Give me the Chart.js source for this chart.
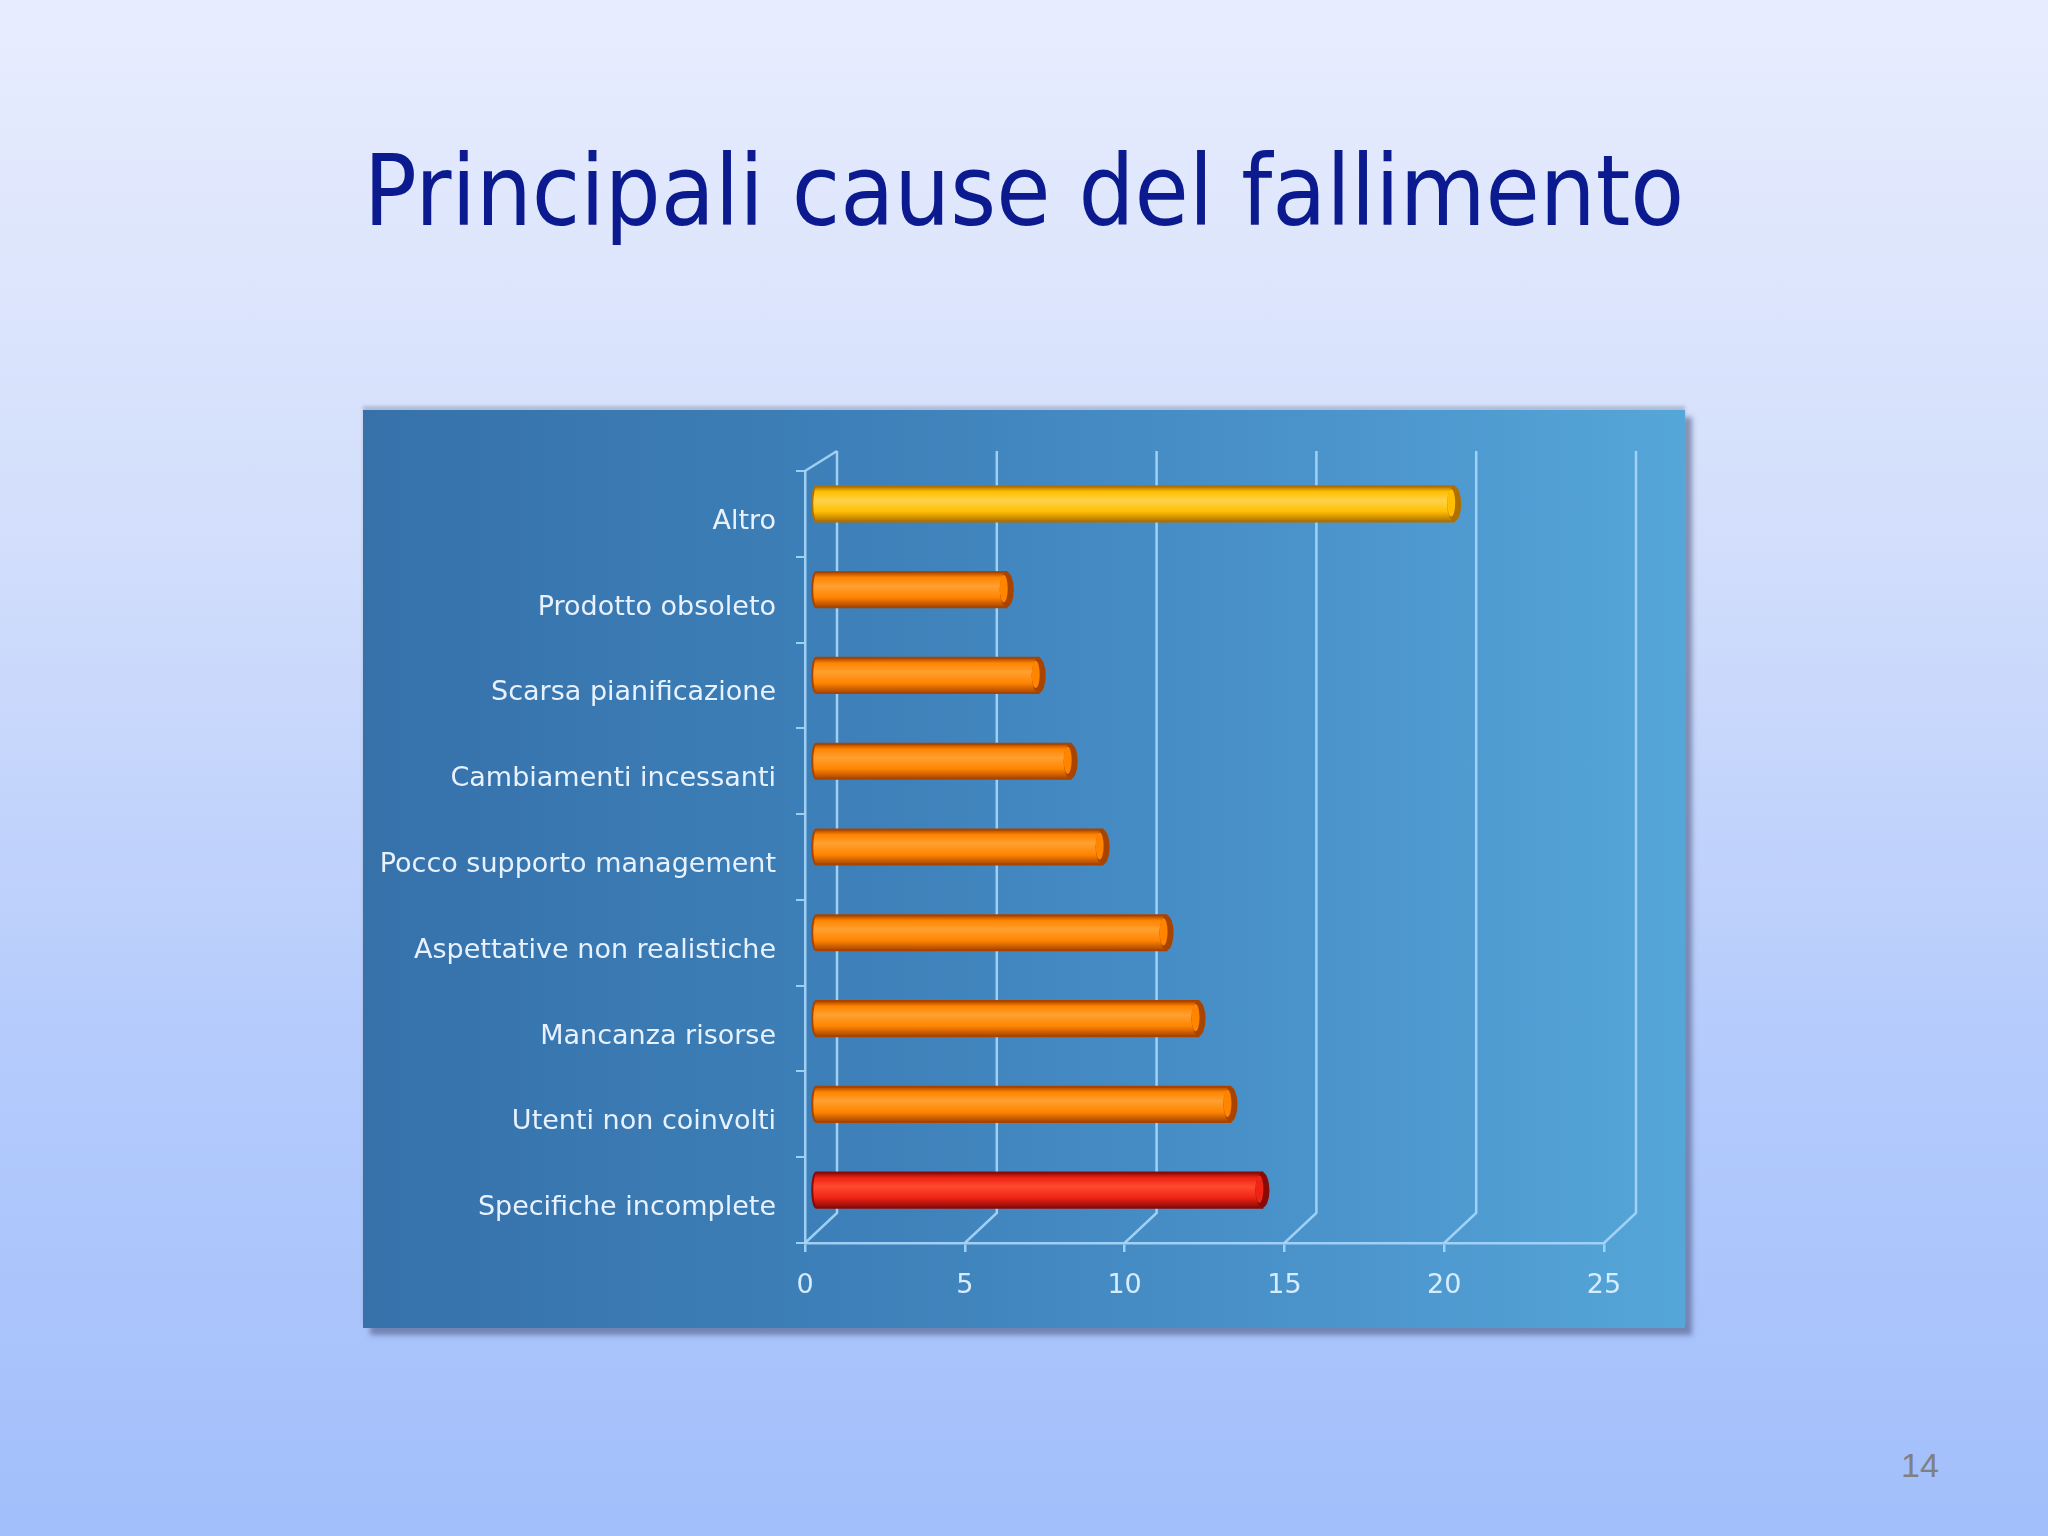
<!DOCTYPE html>
<html>
<head>
<meta charset="utf-8">
<script src="https://cdn.jsdelivr.net/npm/chart.js@4"></script>
<style>
  html, body { margin: 0; padding: 0; }
  body {
    width: 2048px; height: 1536px; overflow: hidden; position: relative;
    background: linear-gradient(to bottom, #e8edfe 0%, #d2defb 35%, #b3cafc 70%, #a2bffb 100%);
  }
  #title {
    position: absolute; left: 0; width: 2048px; top: 142px;
    text-align: center; line-height: 1;
    font-family: "DejaVu Sans Condensed", "DejaVu Sans", sans-serif;
    font-size: 98px; color: #0b1a8e;
  }
  #panel {
    position: absolute; left: 363px; top: 410px; width: 1322px; height: 918px;
    background: linear-gradient(to right, #3671aa 0%, #3d7fb8 35%, #4a92ca 70%, #55a6d9 100%);
    box-shadow: 0 -4px 3px rgba(150,165,190,0.6), 7px 7px 5px rgba(70,80,120,0.55);
  }
  #page {
    position: absolute; left: 1901px; top: 1448px;
    font-family: "Liberation Sans", sans-serif; font-size: 34px; line-height: 1;
    color: #808080;
  }
</style>
</head>
<body>
<div id="title">Principali cause del fallimento</div>
<div id="panel"><canvas id="mycanvas" width="1322" height="918"></canvas></div>
<div id="page">14</div>
<script>
var causes = ['Altro', 'Prodotto obsoleto', 'Scarsa pianificazione', 'Cambiamenti incessanti',
  'Pocco supporto management', 'Aspettative non realistiche', 'Mancanza risorse',
  'Utenti non coinvolti', 'Specifiche incomplete'];
var counts = [20, 6, 7, 8, 9, 11, 12, 13, 14];
var xTicks = [0, 5, 10, 15, 20, 25];

// bar colours: [mid, light, dark]
var yellow = ['#ffbe00', '#ffd24a', '#b07000'];
var orange = ['#ff8400', '#ffa030', '#a84400'];
var red = ['#ee2414', '#ff4a30', '#8a0a08'];
var barColors = causes.map(function(c, i) {
  if (i === 0) return yellow;
  if (i === causes.length - 1) return red;
  return orange;
});

var DX = 32, DY = 30;      // depth of the 3d box
var SHIFT = 10;            // bars sit in the middle of the depth
var lineColor = 'rgba(170,215,250,0.9)';

var wallPlugin = {
  id: 'wall',
  beforeDatasetsDraw: function(chart) {
    var ctx = chart.ctx, a = chart.chartArea, x = chart.scales.x;
    ctx.save();
    ctx.strokeStyle = lineColor;
    ctx.lineWidth = 2.5;
    xTicks.forEach(function(v) {
      var px = x.getPixelForValue(v);
      ctx.beginPath();
      ctx.moveTo(px, a.bottom);
      ctx.lineTo(px + DX, a.bottom - DY);
      ctx.lineTo(px + DX, a.top - 20);
      ctx.stroke();
    });
    ctx.beginPath();
    ctx.moveTo(a.left, a.top);
    ctx.lineTo(a.left + DX, a.top - 20);
    ctx.stroke();
    ctx.restore();
    ctx.save();
    ctx.translate(SHIFT, -SHIFT);
  },
  afterDatasetsDraw: function(chart) {
    var ctx = chart.ctx;
    var meta = chart.getDatasetMeta(0);
    meta.data.forEach(function(bar, i) {
      var col = barColors[i];
      var h = bar.height, top = bar.y - h / 2, left = bar.base, right = bar.x;
      var g = ctx.createLinearGradient(0, top, 0, top + h);
      g.addColorStop(0, col[2]);
      g.addColorStop(0.15, col[0]);
      g.addColorStop(0.4, col[1]);
      g.addColorStop(0.72, col[0]);
      g.addColorStop(1, col[2]);
      ctx.fillStyle = g;
      ctx.beginPath();
      ctx.ellipse(left, bar.y, 4, h / 2, 0, Math.PI / 2, Math.PI * 1.5);
      ctx.lineTo(right, top);
      ctx.lineTo(right, top + h);
      ctx.closePath();
      ctx.fill();
      ctx.strokeStyle = col[2];
      ctx.lineWidth = 2;
      ctx.stroke();
      // end cap
      ctx.beginPath();
      ctx.ellipse(right, bar.y, 7, h / 2, 0, 0, Math.PI * 2);
      ctx.fillStyle = col[2];
      ctx.fill();
      ctx.beginPath();
      ctx.ellipse(right - 3, bar.y - 1, 4, h / 2 - 4, 0, 0, Math.PI * 2);
      ctx.fillStyle = col[0];
      ctx.fill();
    });
    ctx.restore();
  }
};

var chartdata = {
  labels: causes,
  datasets: [{
    data: counts,
    backgroundColor: 'rgba(0,0,0,0)',
    borderWidth: 0,
    categoryPercentage: 1,
    barPercentage: 0.41
  }]
};

var ctx = document.getElementById('mycanvas');
var barGraph = new Chart(ctx, {
  type: 'bar',
  data: chartdata,
  plugins: [wallPlugin],
  options: {
    indexAxis: 'y',
    responsive: false,
    animation: false,
    devicePixelRatio: 1,
    layout: { padding: { left: 0, top: 61, right: 81, bottom: 0 } },
    plugins: { legend: { display: false }, tooltip: { enabled: false } },
    scales: {
      x: {
        min: 0, max: 25,
        afterFit: function(s) { s.height = 85; },
        afterBuildTicks: function(s) { s.ticks = xTicks.map(function(v) { return { value: v }; }); },
        border: { color: lineColor, width: 2.5 },
        grid: { drawOnChartArea: false, color: lineColor, lineWidth: 2.5, tickLength: 9 },
        ticks: { color: '#d6ecff', padding: 18, font: { family: 'DejaVu Sans', size: 27 } }
      },
      y: {
        afterFit: function(s) { s.width = 442; },
        border: { color: lineColor, width: 2.5 },
        grid: { drawOnChartArea: false, color: lineColor, lineWidth: 2, tickLength: 9, offset: true },
        ticks: { color: '#e8f2ff', padding: 20, labelOffset: 8, font: { family: 'DejaVu Sans', size: 27 } }
      }
    }
  }
});
</script>
</body>
</html>
